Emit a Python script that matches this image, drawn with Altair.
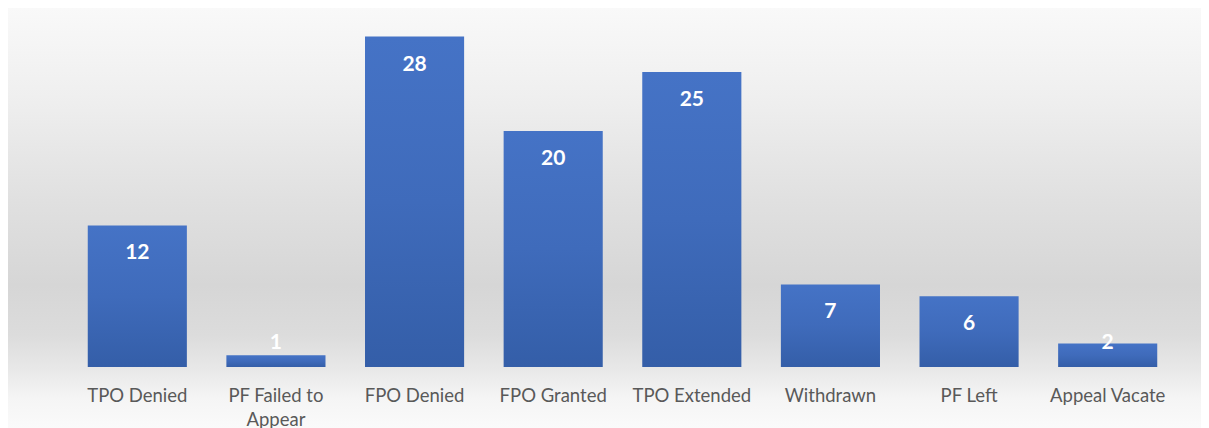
import altair as alt
import pandas as pd

categories = ["TPO Denied", "PF Failed to Appear", "FPO Denied", "FPO Granted",
              "TPO Extended", "Withdrawn", "PF Left", "Appeal Vacate"]
values = [12, 1, 28, 20, 25, 7, 6, 2]

df = pd.DataFrame({"category": categories, "value": values})

W = 1109
H = 354

x_enc = alt.X("category:N", sort=categories, title=None,
              scale=alt.Scale(paddingInner=0.285, paddingOuter=0.1425),
              axis=alt.Axis(labelAngle=0, ticks=False, domain=False, grid=False,
                            zindex=2,
                            labelFont="Lato", labelFontSize=18.5, labelColor="#595959",
                            labelPadding=19, labelLineHeight=24, labelBaseline="top",
                            labelExpr="length(datum.label) > 15 ? ['PF Failed to', 'Appear'] : datum.label"))
y_enc = alt.Y("value:Q", title=None, scale=alt.Scale(domain=[0, 30], nice=False),
              axis=None)

bg_grad = alt.Gradient(
    gradient="linear", x1=0, x2=0, y1=0, y2=1,
    stops=[
        alt.GradientStop(color="#f9f9f9", offset=0.0),
        alt.GradientStop(color="#efefef", offset=0.21),
        alt.GradientStop(color="#e0e0e0", offset=0.46),
        alt.GradientStop(color="#d6d6d6", offset=0.66),
        alt.GradientStop(color="#dcdcdc", offset=0.78),
        alt.GradientStop(color="#e8e8e8", offset=0.86),
        alt.GradientStop(color="#f5f5f5", offset=0.93),
        alt.GradientStop(color="#fafafa", offset=1.0),
    ])

background = alt.Chart(pd.DataFrame({"k": [0]})).mark_rect(
    color=bg_grad, clip=False
).encode(
    x=alt.value(-60), x2=alt.value(W + 24),
    y=alt.value(-5), y2=alt.value(H + 61)
)

bar_grad = alt.Gradient(
    gradient="linear", x1=0, x2=0, y1=0, y2=1,
    stops=[
        alt.GradientStop(color="#4573c6", offset=0.0),
        alt.GradientStop(color="#3f6bbb", offset=0.5),
        alt.GradientStop(color="#345ea8", offset=1.0),
    ])

bars = alt.Chart(df).mark_bar(color=bar_grad).encode(x=x_enc, y=y_enc)

labels = alt.Chart(df).transform_calculate(
    labpos="max(datum.value, 4.4)"
).mark_text(
    color="white", font="Lato", fontWeight="bold", fontSize=21,
    baseline="middle", dy=28
).encode(
    x=alt.X("category:N", sort=categories),
    y=alt.Y("labpos:Q"),
    text=alt.Text("value:Q")
)

chart = alt.layer(background, bars, labels).properties(
    width=W, height=H,
    autosize=alt.AutoSizeParams(type="none"),
    padding={"left": 60, "top": 5, "right": 24, "bottom": 61}
).configure_view(stroke=None).configure(background="white")

chart.save("out.html", embed_options={"renderer": "svg", "actions": False})
